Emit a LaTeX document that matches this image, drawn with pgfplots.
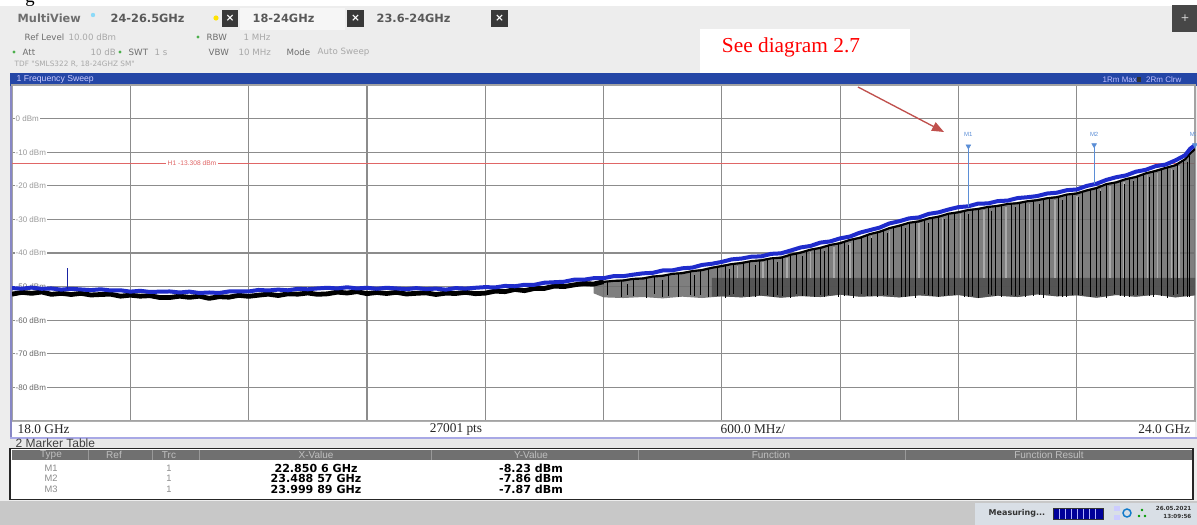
\documentclass[border=0pt]{standalone}
\usepackage{fontspec}
\setmainfont{Liberation Sans}
\newfontfamily\dejavu{DejaVu Sans}
\newfontfamily\serif{Liberation Serif}
\usepackage{pgfplots}
\pgfplotsset{compat=1.18}
\usetikzlibrary{arrows.meta}

\definecolor{uibg}{HTML}{EDEDED}
\definecolor{tabsel}{HTML}{F6F6F6}
\definecolor{gridgray}{HTML}{8C8C8C}
\definecolor{barblue}{HTML}{2446A6}
\definecolor{traceblue}{HTML}{1F2CCC}
\definecolor{markblue}{HTML}{5B8ED6}
\definecolor{hlred}{HTML}{E06666}
\definecolor{fillgray}{HTML}{6E6E6E}
\definecolor{darkband}{HTML}{4E4E4E}
\definecolor{lightstripe}{HTML}{ABABAB}
\definecolor{arrowred}{HTML}{C0504D}
\definecolor{hdrgray}{HTML}{707070}
\definecolor{statusgray}{HTML}{C8C8C8}
\definecolor{statuslight}{HTML}{D9DFE6}
\definecolor{labgray}{HTML}{6E6E6E}
\definecolor{vallight}{HTML}{A8A8A8}

\newcommand{\fs}[1]{\fontsize{#1}{#1}\selectfont}

\begin{document}
\begin{tikzpicture}
% ---------------- window frame, drawn in screen pixels ----------------
\begin{scope}[x=0.75pt,y=-0.75pt]
  \fill[uibg] (0,0) rectangle (1197,525);
  \fill[white] (0,0) rectangle (1197,6);
  \node[anchor=base west, font=\serif\fs{14}, inner sep=0] at (25,2) {g};
  % tab row
  \fill[tabsel] (240,8) rectangle (345,30);
  \node[anchor=west, font=\dejavu\bfseries\fs{8.5}, text=labgray] at (13,18) {MultiView};
  \fill[cyan!45] (93,15) circle (2.2);
  \node[anchor=west, font=\dejavu\bfseries\fs{8.5}, text=black!65] at (106,18) {24-26.5GHz};
  \fill[yellow!85!orange] (216,18) circle (2.6);
  \fill[black!78] (222,10) rectangle (238,27);
  \node[text=white, font=\dejavu\bfseries\fs{8}] at (230,18.5) {×};
  \node[anchor=west, font=\dejavu\bfseries\fs{8.5}, text=black!65] at (248,18) {18-24GHz};
  \fill[black!78] (347,10) rectangle (364,27);
  \node[text=white, font=\dejavu\bfseries\fs{8}] at (355.5,18.5) {×};
  \node[anchor=west, font=\dejavu\bfseries\fs{8.5}, text=black!65] at (372,18) {23.6-24GHz};
  \fill[black!78] (491,10) rectangle (508,27);
  \node[text=white, font=\dejavu\bfseries\fs{8}] at (499.5,18.5) {×};
  \fill[black!72] (1172,5) rectangle (1197,32);
  \node[text=white!85!black, font=\dejavu\fs{8}] at (1185,18) {+};
  % setting rows
  \node[anchor=west, font=\dejavu\fs{6.5}, text=labgray] at (20,37) {Ref Level};
  \node[anchor=west, font=\dejavu\fs{6.5}, text=vallight] at (64,37) {10.00 dBm};
  \fill[green!55!black!70] (198,37) circle (1.6);
  \node[anchor=west, font=\dejavu\fs{6.5}, text=labgray] at (202,37) {RBW};
  \node[anchor=west, font=\dejavu\fs{6.5}, text=vallight] at (239,37) {1 MHz};
  \fill[green!55!black!70] (14,52) circle (1.6);
  \node[anchor=west, font=\dejavu\fs{6.5}, text=labgray] at (18,52) {Att};
  \node[anchor=west, font=\dejavu\fs{6.5}, text=vallight] at (86,52) {10 dB};
  \fill[green!55!black!70] (120,52) circle (1.6);
  \node[anchor=west, font=\dejavu\fs{6.5}, text=labgray] at (124,52) {SWT};
  \node[anchor=west, font=\dejavu\fs{6.5}, text=vallight] at (150,52) {1 s};
  \node[anchor=west, font=\dejavu\fs{6.5}, text=labgray] at (204,52) {VBW};
  \node[anchor=west, font=\dejavu\fs{6.5}, text=vallight] at (234,52) {10 MHz};
  \node[anchor=west, font=\dejavu\fs{6.5}, text=labgray] at (282,52) {Mode};
  \node[anchor=west, font=\dejavu\fs{6.5}, text=vallight] at (313,52) {Auto Sweep};
  \node[anchor=west, font=\dejavu\fs{5.5}, text=vallight] at (10,64) {TDF "SMLS322 R, 18-24GHZ SM"};
  % annotation box
  \fill[white] (700,29) rectangle (910,73);
  \node[text=red, font=\serif\fs{16}] at (791,47) {See diagram 2.7};
  % diagram title bar
  \fill[barblue] (10,73) rectangle (1197,86);
  \node[anchor=west, font=\fs{6.5}, text=white!80!blue] at (12,79.5) {1 Frequency Sweep};
  \node[anchor=west, font=\fs{6}, text=blue!25!white] at (1098,79.5) {1Rm Max};
  \fill[black!80] (1137,77) rectangle (1141,82);
  \node[anchor=west, font=\fs{6}, text=blue!25!white] at (1141.5,79.5) {2Rm Clrw};
  % plot area and status strip
  \fill[white] (10,86) rectangle (1195,437);
\end{scope}

% ---------------- spectrum diagram ----------------
\begin{axis}[
  at={(9pt,-315.75pt)}, anchor=south west,
  width=887.25pt, height=252pt, scale only axis,
  xmin=18, xmax=24, ymin=-90, ymax=10,
  xtick={18.6,19.2,19.8,20.4,21.0,21.6,22.2,22.8,23.4},
  ytick={-80,-70,-60,-50,-40,-30,-20,-10,0},
  xticklabels={}, yticklabels={},
  major tick length=0pt,
  grid=major,
  major grid style={draw=gridgray, line width=0.9pt},
  axis line style={draw=gridgray!80, line width=0.8pt},
  unbounded coords=jump,
]
% level labels
\foreach \v/\c in {0/black!40,-10/black!40,-20/black!40,-30/black!40,-40/black!40,-50/black!55,-60/black!60,-70/black!60,-80/black!60}{
  \edef\temp{\noexpand\node[anchor=west, font=\noexpand\fs{6}, text=\c, fill=white, inner sep=0.8pt] at (axis cs:18.012,\v) {\v\space dBm};}
  \temp
}
% display line H1
\addplot[hlred, line width=0.5pt] coordinates {(18,-13.308) (24,-13.308)};
\node[fill=white, text=hlred, font=\fs{5}, inner sep=1pt] at (axis cs:18.913,-13.308) {H1 -13.308 dBm};

% trace 2 (clear write): filled spread of the pulsed signal
\addplot[fill=fillgray, draw=none, fill opacity=0.88] coordinates {
(20.95,-48.6)(21.0,-48.3)(21.1,-47.8)(21.2,-47.2)(21.3,-46.4)(21.4,-45.6)(21.5,-44.7)(21.6,-43.5)(21.7,-42.6)(21.8,-41.8)(21.9,-41.0)(22.0,-39.5)(22.1,-38.1)(22.2,-36.7)(22.3,-35.1)(22.4,-33.3)(22.5,-31.5)(22.6,-30.2)(22.7,-28.8)(22.8,-27.5)(22.9,-26.5)(23.0,-25.6)(23.1,-24.8)(23.2,-23.9)(23.3,-23.0)(23.4,-21.9)(23.5,-20.3)(23.6,-18.6)(23.7,-17.0)(23.8,-15.2)(23.9,-13.6)(23.95,-11.9)(24.0,-8.9)
(24.0,-52.6)(23.9,-53.2)(23.8,-52.4)(23.7,-53.0)(23.6,-52.5)(23.5,-53.3)(23.4,-52.6)(23.3,-52.9)(23.2,-52.3)(23.1,-53.1)(23.0,-52.7)(22.9,-53.4)(22.8,-52.5)(22.7,-53.0)(22.6,-52.6)(22.5,-53.2)(22.4,-52.8)(22.3,-53.0)(22.2,-52.4)(22.1,-53.1)(22.0,-52.8)(21.9,-53.3)(21.8,-52.7)(21.7,-53.2)(21.6,-52.9)(21.5,-53.4)(21.4,-53.0)(21.3,-53.5)(21.2,-53.1)(21.1,-53.4)(21.0,-53.2)(20.95,-52.0)
} -- cycle;
\addplot[fill=darkband, draw=none, fill opacity=0.85] coordinates {
(21.55,-47.4)(24.0,-47.4)
(24.0,-52.6)(23.9,-53.2)(23.8,-52.4)(23.7,-53.0)(23.6,-52.5)(23.5,-53.3)(23.4,-52.6)(23.3,-52.9)(23.2,-52.3)(23.1,-53.1)(23.0,-52.7)(22.9,-53.4)(22.8,-52.5)(22.7,-53.0)(22.6,-52.6)(22.5,-53.2)(22.4,-52.8)(22.3,-53.0)(22.2,-52.4)(22.1,-53.1)(22.0,-52.8)(21.9,-53.3)(21.8,-52.7)(21.7,-53.2)(21.6,-52.9)(21.55,-53.0)
} -- cycle;
% lighter sweeps
\addplot[lightstripe, line width=1.2pt] coordinates {
(21.68,-43.8)(21.68,-47.5)(21.68,nan)(21.81,-42.7)(21.81,-47.5)(21.81,nan)(21.93,-41.6)(21.93,-47.5)(21.93,nan)
(22.05,-39.8)(22.05,-47.5)(22.05,nan)(22.17,-38.1)(22.17,-47.5)(22.17,nan)(22.25,-36.9)(22.25,-47.5)(22.25,nan)
(22.36,-35.0)(22.36,-47.5)(22.36,nan)(22.45,-33.4)(22.45,-47.5)(22.45,nan)(22.60,-31.2)(22.60,-47.5)(22.60,nan)
(22.72,-29.5)(22.72,-47.5)(22.72,nan)(22.81,-28.4)(22.81,-47.5)(22.81,nan)(22.93,-27.3)(22.93,-47.5)(22.93,nan)
(23.04,-26.3)(23.04,-47.5)(23.04,nan)(23.16,-25.3)(23.16,-47.5)(23.16,nan)(23.29,-24.1)(23.29,-47.5)(23.29,nan)
(23.40,-22.9)(23.40,-47.5)(23.40,nan)(23.52,-20.9)(23.52,-47.5)(23.52,nan)(23.57,-20.0)(23.57,-47.5)(23.57,nan)
(23.64,-19.0)(23.64,-47.5)(23.64,nan)(23.76,-16.9)(23.76,-47.5)(23.76,nan)(23.81,-16.1)(23.81,-47.5)(23.81,nan)
(23.88,-14.9)(23.88,-47.5)(23.88,nan)(23.92,-14.0)(23.92,-47.5)(23.92,nan)
};
% dropouts of trace 2
\addplot[black, line width=0.7pt] coordinates {
(21.02,-48.5)(21.02,-52.4)(21.02,nan)(21.09,-48.1)(21.09,-53.1)(21.09,nan)(21.15,-47.8)(21.15,-52.7)(21.15,nan)
(21.22,-47.3)(21.22,-53.4)(21.22,nan)(21.26,-47.0)(21.26,-52.2)(21.26,nan)(21.33,-46.4)(21.33,-52.9)(21.33,nan)
(21.38,-46.0)(21.38,-53.2)(21.38,nan)(21.44,-45.5)(21.44,-52.5)(21.44,nan)(21.49,-45.1)(21.49,-52.4)(21.49,nan)
(21.53,-44.7)(21.53,-53.1)(21.53,nan)(21.58,-44.1)(21.58,-52.7)(21.58,nan)(21.62,-43.6)(21.62,-53.4)(21.62,nan)
(21.66,-43.3)(21.66,-52.2)(21.66,nan)(21.71,-42.8)(21.71,-52.9)(21.71,nan)(21.74,-42.6)(21.74,-53.2)(21.74,nan)
(21.79,-42.2)(21.79,-52.5)(21.79,nan)(21.83,-41.9)(21.83,-52.4)(21.83,nan)(21.86,-41.6)(21.86,-53.1)(21.86,nan)
(21.91,-41.2)(21.91,-52.7)(21.91,nan)(21.95,-40.6)(21.95,-53.4)(21.95,nan)(21.98,-40.1)(21.98,-52.2)(21.98,nan)
(22.03,-39.4)(22.03,-52.9)(22.03,nan)(22.07,-38.8)(22.07,-53.2)(22.07,nan)(22.10,-38.4)(22.10,-52.5)(22.10,nan)
(22.14,-37.8)(22.14,-52.4)(22.14,nan)(22.19,-37.1)(22.19,-53.1)(22.19,nan)(22.22,-36.7)(22.22,-52.7)(22.22,nan)
(22.27,-35.9)(22.27,-53.4)(22.27,nan)(22.31,-35.2)(22.31,-52.2)(22.31,nan)(22.34,-34.7)(22.34,-52.9)(22.34,nan)
(22.39,-33.8)(22.39,-53.2)(22.39,nan)(22.42,-33.2)(22.42,-52.5)(22.42,nan)(22.47,-32.3)(22.47,-52.4)(22.47,nan)
(22.51,-31.6)(22.51,-53.1)(22.51,nan)(22.55,-31.1)(22.55,-52.7)(22.55,nan)(22.58,-30.7)(22.58,-53.4)(22.58,nan)
(22.63,-30.1)(22.63,-52.2)(22.63,nan)(22.67,-29.5)(22.67,-52.9)(22.67,nan)(22.70,-29.1)(22.70,-53.2)(22.70,nan)
(22.75,-28.4)(22.75,-52.5)(22.75,nan)(22.78,-28.0)(22.78,-52.4)(22.78,nan)(22.83,-27.5)(22.83,-53.1)(22.83,nan)
(22.87,-27.1)(22.87,-52.7)(22.87,nan)(22.90,-26.8)(22.90,-53.4)(22.90,nan)(22.95,-26.4)(22.95,-52.2)(22.95,nan)
(22.99,-26.0)(22.99,-52.9)(22.99,nan)(23.02,-25.7)(23.02,-53.2)(23.02,nan)(23.07,-25.3)(23.07,-52.5)(23.07,nan)
(23.11,-25.0)(23.11,-52.4)(23.11,nan)(23.14,-24.8)(23.14,-53.1)(23.14,nan)(23.18,-24.4)(23.18,-52.7)(23.18,nan)
(23.23,-24.0)(23.23,-53.4)(23.23,nan)(23.26,-23.7)(23.26,-52.2)(23.26,nan)(23.31,-23.2)(23.31,-52.9)(23.31,nan)
(23.35,-22.7)(23.35,-53.2)(23.35,nan)(23.38,-22.4)(23.38,-52.5)(23.38,nan)(23.43,-21.8)(23.43,-52.4)(23.43,nan)
(23.47,-21.1)(23.47,-53.1)(23.47,nan)(23.50,-20.6)(23.50,-52.7)(23.50,nan)(23.55,-19.6)(23.55,-53.4)(23.55,nan)
(23.59,-19.0)(23.59,-52.2)(23.59,nan)(23.62,-18.6)(23.62,-52.9)(23.62,nan)(23.67,-17.8)(23.67,-53.2)(23.67,nan)
(23.71,-17.1)(23.71,-52.5)(23.71,nan)(23.74,-16.6)(23.74,-52.4)(23.74,nan)(23.79,-15.7)(23.79,-53.1)(23.79,nan)
(23.83,-15.1)(23.83,-52.7)(23.83,nan)(23.86,-14.6)(23.86,-53.4)(23.86,nan)(23.91,-13.5)(23.91,-52.2)(23.91,nan)
(23.94,-12.5)(23.94,-52.9)(23.94,nan)(23.97,-11.0)(23.97,-53.2)(23.97,nan)
(21.12,-49.2)(21.12,-52.6)(21.12,nan)(21.30,-47.9)(21.30,-53.0)(21.30,nan)(21.46,-46.6)(21.46,-52.8)(21.46,nan)
(21.64,-44.7)(21.64,-52.6)(21.64,nan)(21.77,-43.6)(21.77,-53.0)(21.77,nan)(21.88,-42.65)(21.88,-52.4)(21.88,nan)
(22.01,-40.9)(22.01,-52.8)(22.01,nan)(22.12,-39.3)(22.12,-53.2)(22.12,nan)(22.24,-37.6)(22.24,-52.5)(22.24,nan)
(22.36,-35.5)(22.36,-52.9)(22.36,nan)(22.44,-34.1)(22.44,-52.6)(22.44,nan)(22.53,-32.6)(22.53,-53.1)(22.53,nan)
(22.65,-31.0)(22.65,-52.4)(22.65,nan)(22.73,-29.9)(22.73,-52.8)(22.73,nan)(22.85,-28.5)(22.85,-53.2)(22.85,nan)
(22.97,-27.4)(22.97,-52.5)(22.97,nan)(23.09,-26.4)(23.09,-52.9)(23.09,nan)(23.21,-25.3)(23.21,-52.6)(23.21,nan)
(23.33,-24.2)(23.33,-53.1)(23.33,nan)(23.41,-23.3)(23.41,-52.4)(23.41,nan)(23.52,-21.4)(23.52,-52.8)(23.52,nan)
(23.64,-19.5)(23.64,-53.2)(23.64,nan)(23.69,-18.7)(23.69,-52.5)(23.69,nan)(23.77,-17.3)(23.77,-52.9)(23.77,nan)
(23.89,-15.3)(23.89,-52.6)(23.89,nan)(23.96,-12.8)(23.96,-53.1)(23.96,nan)
};
% trace 2, noise floor part
\addplot[black, line width=3.6pt, line join=round] coordinates {
(18.00,-52.25)(18.05,-51.7)(18.10,-52.0)(18.15,-51.6)(18.20,-52.3)(18.25,-52.0)(18.30,-52.35)(18.35,-52.0)(18.40,-52.5)(18.45,-52.35)
(18.50,-52.25)(18.55,-52.85)(18.60,-52.55)(18.65,-52.85)(18.70,-52.7)(18.75,-53.25)(18.80,-53.25)(18.85,-52.85)(18.90,-53.2)(18.95,-52.85)
(19.00,-53.5)(19.05,-53.0)(19.10,-53.15)(19.15,-52.6)(19.20,-52.9)(19.25,-52.55)(19.30,-52.25)(19.35,-52.65)(19.40,-52.15)(19.45,-52.25)
(19.50,-51.9)(19.55,-52.3)(19.60,-52.15)(19.65,-51.65)(19.70,-51.9)(19.75,-51.5)(19.80,-52.1)(19.85,-51.75)(19.90,-52.05)(19.95,-51.7)
(20.00,-52.2)(20.05,-52.0)(20.10,-51.85)(20.15,-52.35)(20.20,-51.95)(20.25,-52.05)(20.30,-51.7)(20.35,-52.1)(20.40,-51.95)(20.45,-51.35)
(20.50,-51.5)(20.55,-50.85)(20.60,-51.2)(20.65,-50.55)(20.70,-50.55)(20.75,-49.85)(20.80,-50.0)(20.85,-49.5)(20.90,-49.05)(20.95,-49.25)
(21.00,-48.55)
};
% trace 2, upper edge of the rising part
\addplot[black, line width=1.6pt, line join=round] coordinates {
(20.95,-49.25)(21.00,-48.6)(21.05,-48.3)(21.10,-48.2)(21.15,-47.7)(21.20,-47.6)(21.25,-47.0)(21.30,-46.8)(21.35,-46.2)(21.40,-46.0)
(21.45,-45.4)(21.50,-45.1)(21.55,-44.4)(21.60,-43.9)(21.65,-43.3)(21.70,-43.0)(21.75,-42.4)(21.80,-42.2)(21.85,-41.6)(21.90,-41.4)
(21.95,-40.5)(22.00,-39.9)(22.05,-39.0)(22.10,-38.5)(22.15,-37.6)(22.20,-37.1)(22.25,-36.1)(22.30,-35.5)(22.35,-34.4)(22.40,-33.7)
(22.45,-32.6)(22.50,-31.9)(22.55,-31.0)(22.60,-30.6)(22.65,-29.7)(22.70,-29.2)(22.75,-28.3)(22.80,-27.9)(22.85,-27.2)(22.90,-26.9)
(22.95,-26.3)(23.00,-26.0)(23.05,-25.4)(23.10,-25.2)(23.15,-24.6)(23.20,-24.3)(23.25,-23.7)(23.30,-23.4)(23.35,-22.6)(23.40,-22.3)
(23.45,-21.4)(23.50,-20.7)(23.55,-19.5)(23.60,-19.0)(23.65,-18.0)(23.70,-17.4)(23.75,-16.3)(23.80,-15.6)(23.85,-14.7)(23.90,-13.9)
(23.95,-12.1)(23.975,-10.4)(24.00,-9.0)
};
% trace 1 (max hold)
\addplot[traceblue, line width=3pt, line join=round] coordinates {
(18.00,-50.45)(18.05,-50.6)(18.10,-50.3)(18.15,-50.65)(18.20,-50.55)(18.25,-50.9)(18.30,-50.65)(18.35,-50.85)(18.40,-51.05)(18.45,-50.8)
(18.50,-51.15)(18.55,-51.1)(18.60,-51.5)(18.65,-51.25)(18.70,-51.6)(18.75,-51.5)(18.80,-51.45)(18.85,-51.75)(18.90,-51.5)(18.95,-51.9)
(19.00,-51.75)(19.05,-51.9)(19.10,-51.45)(19.15,-51.45)(19.20,-51.45)(19.25,-51.0)(19.30,-51.15)(19.35,-50.9)(19.40,-51.1)(19.45,-50.65)
(19.50,-50.8)(19.55,-50.55)(19.60,-50.35)(19.65,-50.55)(19.70,-50.2)(19.75,-50.55)(19.80,-50.35)(19.85,-50.65)(19.90,-50.35)(19.95,-50.55)
(20.00,-50.75)(20.05,-50.45)(20.10,-50.75)(20.15,-50.6)(20.20,-50.9)(20.25,-50.45)(20.30,-50.6)(20.35,-50.35)(20.40,-50.15)(20.45,-50.25)
(20.50,-49.8)(20.55,-49.9)(20.60,-49.45)(20.65,-49.45)(20.70,-48.85)(20.75,-48.7)(20.80,-48.55)(20.85,-47.95)(20.90,-47.95)(20.95,-47.5)
(21.00,-47.5)(21.05,-46.9)(21.10,-46.9)(21.15,-46.45)(21.20,-46.05)(21.25,-45.9)(21.30,-45.2)(21.35,-45.15)(21.40,-44.55)(21.45,-44.35)
(21.50,-43.55)(21.55,-43.2)(21.60,-42.65)(21.65,-41.9)(21.70,-41.65)(21.75,-41.1)(21.80,-41.0)(21.85,-40.25)(21.90,-40.1)(21.95,-39.25)
(22.00,-38.35)(22.05,-37.9)(22.10,-36.9)(22.15,-36.55)(22.20,-35.65)(22.25,-35.1)(22.30,-33.95)(22.35,-33.2)(22.40,-32.45)(22.45,-31.2)
(22.50,-30.55)(22.55,-29.7)(22.60,-29.4)(22.65,-28.35)(22.70,-27.9)(22.75,-27.05)(22.80,-26.35)(22.85,-26.1)(22.90,-25.3)(22.95,-25.25)
(23.00,-24.55)(23.05,-24.4)(23.10,-23.65)(23.15,-23.4)(23.20,-23.05)(23.25,-22.3)(23.30,-22.05)(23.35,-21.3)(23.40,-21.1)(23.45,-20.05)
(23.50,-19.4)(23.55,-18.25)(23.60,-17.45)(23.65,-16.9)(23.70,-15.8)(23.75,-15.25)(23.80,-14.15)(23.85,-13.7)(23.90,-12.45)(23.95,-10.9)
(23.975,-9.0)(24.00,-7.9)
};
% narrow spur near 18.28 GHz
\addplot[traceblue!80!black, line width=0.6pt] coordinates {(18.28,-50.6) (18.28,-44.5)};

% markers M1..M3
\addplot[markblue, line width=0.7pt] coordinates {(22.8506,-8.23) (22.8506,-26.2) (22.8506,nan) (23.48857,-7.86) (23.48857,-19.6)};
\addplot[markblue, only marks, mark=triangle*, mark size=2pt, mark options={rotate=180}] coordinates {(22.8506,-8.23) (23.48857,-7.86) (23.99989,-7.87)};
\node[text=markblue, font=\fs{4.5}] at (axis cs:22.8506,-4.6) {M1};
\node[text=markblue, font=\fs{4.5}] at (axis cs:23.48857,-4.6) {M2};
\node[text=markblue, font=\fs{4.5}] at (axis cs:23.995,-4.6) {M3};
\end{axis}

% ---------------- foreground: frame details, tables, status bar ----------------
\begin{scope}[x=0.75pt,y=-0.75pt]
  \draw[color=blue!35!gray!70, line width=1.1pt] (11,86) -- (11,437);
  % bottom strip of the diagram
  \draw[color=gridgray!70, line width=0.6pt] (12,421.5) -- (1195,421.5);
  \node[anchor=west, font=\serif\fs{10}, text=black!85] at (13,429.5) {18.0 GHz};
  \node[font=\serif\fs{10}, text=black!85] at (456,429.5) {27001 pts};
  \node[anchor=west, font=\serif\fs{10}, text=black!85] at (716,429.5) {600.0 MHz/};
  \node[anchor=east, font=\serif\fs{10}, text=black!85] at (1195,429.5) {24.0 GHz};
  \draw[color=blue!30!white!80!gray, line width=1.5pt] (10,437.5) -- (1197,437.5);
  % marker table
  \fill[black!9] (10,438.5) rectangle (1197,448.5);
  \node[anchor=west, font=\fs{9}, text=black!75] at (11,443.2) {2 Marker Table};
  \draw[black!85, line width=1.1pt, fill=white] (10,448.5) rectangle (1193,499.5);
  \fill[hdrgray] (11.5,450) rectangle (1191.5,460);
  \foreach \xx in {88,152,199,431,638,905}{\draw[black!40, line width=0.6pt] (\xx,450) -- (\xx,460);}
  \foreach \xx/\tt in {51/Type,114/Ref,169/Trc,316/X-Value,531/Y-Value,771/Function,1049/Function Result}{
    \node[font=\fs{7.5}, text=white!75!black] at (\xx,455) {\tt};}
  \foreach \yy/\mm/\fx/\fy in {468/M1/22.850 6 GHz/-8.23 dBm,478.5/M2/23.488 57 GHz/-7.86 dBm,489/M3/23.999 89 GHz/-7.87 dBm}{
    \node[font=\fs{7}, text=black!45] at (51,\yy) {\mm};
    \node[font=\fs{7}, text=black!45] at (169,\yy) {1};
    \node[font=\dejavu\bfseries\fs{8.3}, text=black, inner sep=0pt] at (316,\yy) {\fx};
    \node[font=\dejavu\bfseries\fs{8.3}, text=black, inner sep=0pt] at (531,\yy) {\fy};
  }
  % status bar
  \fill[statusgray] (0,501) rectangle (1197,525);
  \fill[statuslight] (975,503) rectangle (1197,525);
  \node[anchor=west, font=\dejavu\bfseries\fs{6}, text=black!80] at (984,513.5) {Measuring...};
  \draw[black!80, fill=blue!60!black, line width=0.6pt] (1053,508) rectangle (1103,519);
  \foreach \xx in {1059,1065,1071,1077,1083,1089,1095}{\draw[white!70!blue, line width=0.45pt] (\xx,508.5) -- (\xx,518.5);}
  \draw[cyan!60!blue, line width=1.1pt] (1127,513) circle (4);
  \fill[white!80!blue] (1114,506) rectangle (1120,511); \fill[white!80!blue] (1114,515) rectangle (1120,520);
  \fill[green!60!black] (1142,510) circle (1.4); \fill[green!60!black] (1139,516) circle (1.4); \fill[green!60!black] (1145,516) circle (1.4);
  \node[anchor=east, font=\dejavu\bfseries\fs{4.2}, text=black!80] at (1196,508.5) {26.05.2021};
  \node[anchor=east, font=\dejavu\bfseries\fs{4.2}, text=black!80] at (1196,516.5) {13:09:56};
  % annotation arrow
  \draw[arrowred, line width=1pt, -{Triangle[length=9pt,width=7pt]}] (858,87) -- (944,132);
  \pgfresetboundingbox
  \path[use as bounding box] (0,0) rectangle (1197,525);
\end{scope}
\end{tikzpicture}
\end{document}
